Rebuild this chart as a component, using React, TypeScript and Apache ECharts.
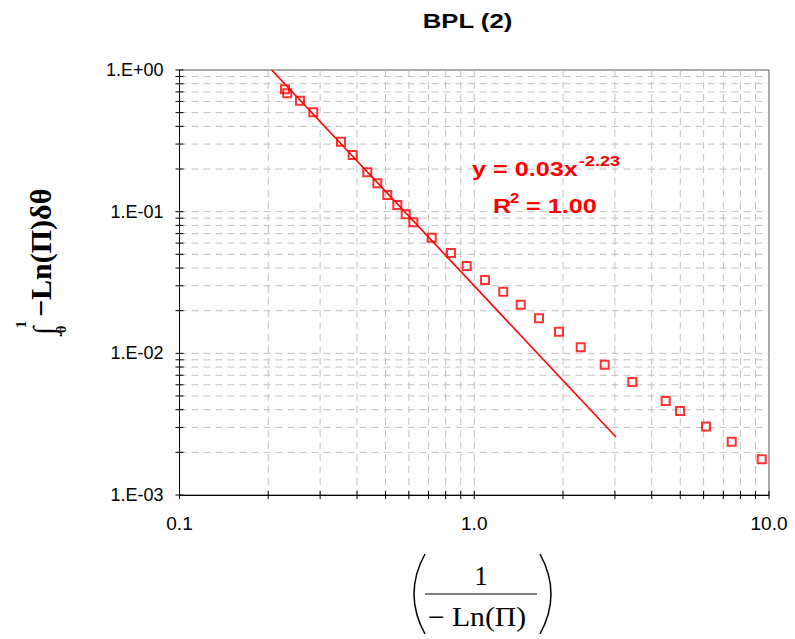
import React, { useEffect, useRef } from "react";
import * as echarts from "echarts";

// ---- data ----
const xValues = [0.2279, 0.232, 0.2563, 0.2844, 0.3531, 0.3869, 0.4337, 0.469, 0.507, 0.5482, 0.5854, 0.6213, 0.7173, 0.8339, 0.9428, 1.088, 1.254, 1.438, 1.658, 1.939, 2.297, 2.771, 3.438, 4.462, 4.991, 6.113, 7.473, 9.445];
const yValues = [0.731, 0.685, 0.607, 0.503, 0.312, 0.2513, 0.1897, 0.1586, 0.1312, 0.1115, 0.0958, 0.0842, 0.0655, 0.0511, 0.0414, 0.033, 0.0272, 0.022, 0.0177, 0.01423, 0.01104, 0.00832, 0.00628, 0.00461, 0.00392, 0.00304, 0.00238, 0.00179];
const trendX = [0.2055, 3.026];
const trendY = [1.0, 0.00257];

const X_MIN = 0.1;
const X_MAX = 10;
const Y_MIN = 0.001;
const Y_MAX = 1;

const xTickValues = [0.1, 0.2, 0.3, 0.4, 0.5, 0.6, 0.7, 0.8, 0.9, 1, 2, 3, 4, 5, 6, 7, 8, 9, 10];
const yTickValues = [0.001, 0.002, 0.003, 0.004, 0.005, 0.006, 0.007, 0.008, 0.009, 0.01, 0.02, 0.03, 0.04, 0.05, 0.06, 0.07, 0.08, 0.09, 0.1, 0.2, 0.3, 0.4, 0.5, 0.6, 0.7, 0.8, 0.9, 1];

const titleText = "BPL (2)";
const eqMain = "y = 0.03x";
const eqExp = "-2.23";
const r2Main = "R";
const r2Exp = "2";
const r2Rest = " = 1.00";
const yNameMain = "\u2212Ln(\u03a0)\u03b4\u03b8";
const yNameIntegral = "\u222b";
const yNameUpper = "1";
const yNameLower = "\u03b8";
const xNameNum = "1";
const xNameDen = "\u2212 Ln(\u03a0)";

const GRID_COLOR = "#c0c0c0";
const RED = "#ff0000";
const SERIF = "'Liberation Serif', 'Times New Roman', serif";
const SANS = "'Liberation Sans', Arial, sans-serif";

function fmtY(v: number): string {
  const e = Math.round(Math.log10(v));
  const s = e >= 0 ? "+" : "-";
  return "1.E" + s + String(Math.abs(e)).padStart(2, "0");
}

// rotated (reading bottom-to-top) text: local (lx along reading, ly across) -> screen
const ROT_OX = 50;
const ROT_OY = 340;
function rotText(lx: number, ly: number, text: string, fontSize: number) {
  return {
    type: "text",
    x: ROT_OX + ly,
    y: ROT_OY - lx,
    rotation: Math.PI / 2,
    style: { text, fontFamily: SERIF, fontWeight: "bold", fontSize, fill: "#000", align: "left", verticalAlign: "middle" },
  };
}

export default function App() {
  const ref = useRef<HTMLDivElement>(null);
  useEffect(() => {
    if (!ref.current) return;
    const chart = echarts.init(ref.current, undefined, { renderer: "svg" });
    const points = xValues.map((x, i) => [x, yValues[i]]);
    const trend = trendX.map((x, i) => [x, trendY[i]]);

    const option: any = {
      animation: false,
      backgroundColor: "#ffffff",
      grid: {
        left: 179.5,
        right: 26,
        top: 70,
        bottom: 144,
        show: true,
        borderColor: "#555555",
        borderWidth: 1,
        backgroundColor: "transparent",
      },
      xAxis: {
        type: "log",
        logBase: 10,
        min: X_MIN,
        max: X_MAX,
        splitNumber: 2,
        axisLine: { show: true, lineStyle: { color: "#000", width: 1 } },
        axisTick: { show: false },
        splitLine: { show: false },
        minorTick: { show: false },
        axisLabel: {
          margin: 19,
          fontSize: 19,
          fontFamily: SANS,
          color: "#000",
          formatter: (v: number) => v.toFixed(1),
        },
      },
      yAxis: {
        type: "log",
        logBase: 10,
        min: Y_MIN,
        max: Y_MAX,
        splitNumber: 3,
        axisLine: { show: true, lineStyle: { color: "#000", width: 1 } },
        axisTick: { show: false },
        splitLine: { show: false },
        minorTick: { show: false },
        axisLabel: {
          margin: 16,
          fontSize: 18,
          fontFamily: SANS,
          color: "#000",
          formatter: (v: number) => fmtY(v),
        },
      },
      series: [
        {
          type: "custom",
          coordinateSystem: "cartesian2d",
          clip: false,
          silent: true,
          z: 1,
          data: xTickValues.map((v) => [v, Y_MIN]),
          encode: { x: 0, y: 1 },
          renderItem: (params: any, api: any) => {
            const v = api.value(0);
            const p = api.coord([v, Y_MIN]);
            const cs = params.coordSys;
            const top = cs.y;
            const bottom = cs.y + cs.height;
            const children: any[] = [];
            if (v > X_MIN * 1.0001 && v < X_MAX * 0.9999) {
              children.push({
                type: "line",
                shape: { x1: p[0], y1: top, x2: p[0], y2: bottom },
                style: { stroke: GRID_COLOR, lineWidth: 1, lineDash: [7, 5] },
              });
            }
            children.push({
              type: "line",
              shape: { x1: p[0], y1: bottom - 4, x2: p[0], y2: bottom + 4 },
              style: { stroke: "#000", lineWidth: 1 },
            });
            return { type: "group", children };
          },
        },
        {
          type: "custom",
          coordinateSystem: "cartesian2d",
          clip: false,
          silent: true,
          z: 1,
          data: yTickValues.map((v) => [X_MIN, v]),
          encode: { x: 0, y: 1 },
          renderItem: (params: any, api: any) => {
            const v = api.value(1);
            const p = api.coord([X_MIN, v]);
            const cs = params.coordSys;
            const left = cs.x;
            const right = cs.x + cs.width;
            const children: any[] = [];
            if (v > Y_MIN * 1.0001 && v < Y_MAX * 0.9999) {
              children.push({
                type: "line",
                shape: { x1: left, y1: p[1], x2: right, y2: p[1] },
                style: { stroke: GRID_COLOR, lineWidth: 1, lineDash: [7, 5] },
              });
            }
            children.push({
              type: "line",
              shape: { x1: left - 4, y1: p[1], x2: left + 4, y2: p[1] },
              style: { stroke: "#000", lineWidth: 1 },
            });
            return { type: "group", children };
          },
        },
        {
          type: "line",
          data: trend,
          symbol: "none",
          z: 2,
          lineStyle: { color: RED, width: 1.6 },
          silent: true,
        },
        {
          type: "scatter",
          data: points,
          symbol: "rect",
          symbolSize: 8,
          z: 3,
          itemStyle: { color: "rgba(0,0,0,0)", borderColor: RED, borderWidth: 2 },
        },
      ],
      graphic: [
        {
          type: "text",
          x: 467.5,
          y: 21,
          scaleX: 1.32,
          style: { text: titleText, fontFamily: SANS, fontWeight: "bold", fontSize: 19.5, fill: "#000", align: "center", verticalAlign: "middle" },
        },
        {
          type: "text",
          x: 472,
          y: 169,
          scaleX: 1.2,
          z: 10,
          style: { text: eqMain, fontFamily: SANS, fontWeight: "bold", fontSize: 21, fill: RED, align: "left", verticalAlign: "middle" },
        },
        {
          type: "text",
          x: 579,
          y: 161,
          scaleX: 1.2,
          z: 10,
          style: { text: eqExp, fontFamily: SANS, fontWeight: "bold", fontSize: 15, fill: RED, align: "left", verticalAlign: "middle" },
        },
        {
          type: "text",
          x: 493,
          y: 205.5,
          scaleX: 1.2,
          z: 10,
          style: { text: r2Main, fontFamily: SANS, fontWeight: "bold", fontSize: 21, fill: RED, align: "left", verticalAlign: "middle" },
        },
        {
          type: "text",
          x: 510,
          y: 198,
          scaleX: 1.2,
          z: 10,
          style: { text: r2Exp, fontFamily: SANS, fontWeight: "bold", fontSize: 14, fill: RED, align: "left", verticalAlign: "middle" },
        },
        {
          type: "text",
          x: 519,
          y: 205.5,
          scaleX: 1.2,
          z: 10,
          style: { text: r2Rest, fontFamily: SANS, fontWeight: "bold", fontSize: 21, fill: RED, align: "left", verticalAlign: "middle" },
        },
        // y-axis name: rotated formula (integral from theta to 1 of -Ln(Pi) d theta)
        rotText(23, -10, yNameMain, 30),
        rotText(5, -7, yNameIntegral, 30),
        rotText(12, -29, yNameUpper, 14),
        rotText(7, 11, yNameLower, 14),
        // x-axis name (fraction in parentheses)
        {
          type: "text",
          x: 481,
          y: 576,
          style: { text: xNameNum, fontFamily: SERIF, fontSize: 27, fill: "#000", align: "center", verticalAlign: "middle" },
        },
        {
          type: "line",
          shape: { x1: 425, y1: 594, x2: 537, y2: 594 },
          style: { stroke: "#000", lineWidth: 1.2 },
        },
        {
          type: "text",
          x: 477,
          y: 617,
          scaleX: 1.1,
          style: { text: xNameDen, fontFamily: SERIF, fontSize: 27, fill: "#000", align: "center", verticalAlign: "middle" },
        },
        {
          type: "bezierCurve",
          shape: { x1: 425, y1: 554, cpx1: 403, cpy1: 594, x2: 425, y2: 634 },
          style: { stroke: "#000", lineWidth: 1.5, fill: "none" },
        },
        {
          type: "bezierCurve",
          shape: { x1: 540, y1: 554, cpx1: 562, cpy1: 594, x2: 540, y2: 634 },
          style: { stroke: "#000", lineWidth: 1.5, fill: "none" },
        },
      ],
    };
    chart.setOption(option);
    return () => chart.dispose();
  }, []);
  return (
    <div
      ref={ref}
      style={{ position: "fixed", left: 0, top: 0, width: 795, height: 639, background: "#fff" }}
    />
  );
}
